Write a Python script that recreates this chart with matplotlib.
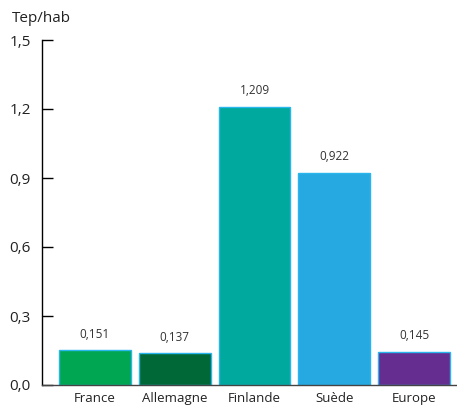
import numpy as np
import matplotlib.pyplot as plt

plt.rcParams['font.family'] = ['Open Sans', 'DejaVu Sans']

pays = ['France', 'Allemagne', 'Finlande', 'Suède', 'Europe']
valeurs = [0.151, 0.137, 1.209, 0.922, 0.145]
etiquettes = ['0,151', '0,137', '1,209', '0,922', '0,145']
couleurs = ['#00a651', '#006837', '#00a99d', '#26a9e1', '#662d91']
yticks = [0.0, 0.3, 0.6, 0.9, 1.2, 1.5]
ytick_labels = ['0,0', '0,3', '0,6', '0,9', '1,2', '1,5']

fig = plt.figure(figsize=(4.57, 4.05), dpi=100)
ax = fig.add_axes([42 / 457, 1 - 385 / 405, 1 - 42 / 457, (385 - 40) / 405])

x = np.arange(len(pays))
bars = ax.bar(x, valeurs, width=0.9, color=couleurs, edgecolor='#29b6ec', linewidth=1.0)
for b, lab in zip(bars, etiquettes):
    ax.annotate(lab, (b.get_x() + b.get_width() / 2, b.get_height()),
                xytext=(0, 7), textcoords='offset points', ha='center', va='bottom',
                fontsize=8.5, color='#333333')

ax.set_xlim(-53 / 80, 4 + 43 / 80)
ax.set_ylim(0, 1.5)
ax.set_yticks(yticks)
ax.set_yticklabels(ytick_labels, fontsize=11, color='#222222')
ax.set_xticks(x)
ax.set_xticklabels(pays, fontsize=9.5, color='#222222')
ax.tick_params(axis='y', direction='in', length=8, width=1, pad=8)
ax.tick_params(axis='x', length=0, pad=5)
for s in ['top', 'right']:
    ax.spines[s].set_visible(False)
ax.spines['left'].set_linewidth(1)
ax.spines['bottom'].set_linewidth(1)
ax.spines['bottom'].set_color('#444444')

fig.text(12 / 457, 1 - 18 / 405, 'Tep/hab', fontsize=11, va='center', ha='left', color='#222222')

fig.savefig('out.png', dpi=100)
